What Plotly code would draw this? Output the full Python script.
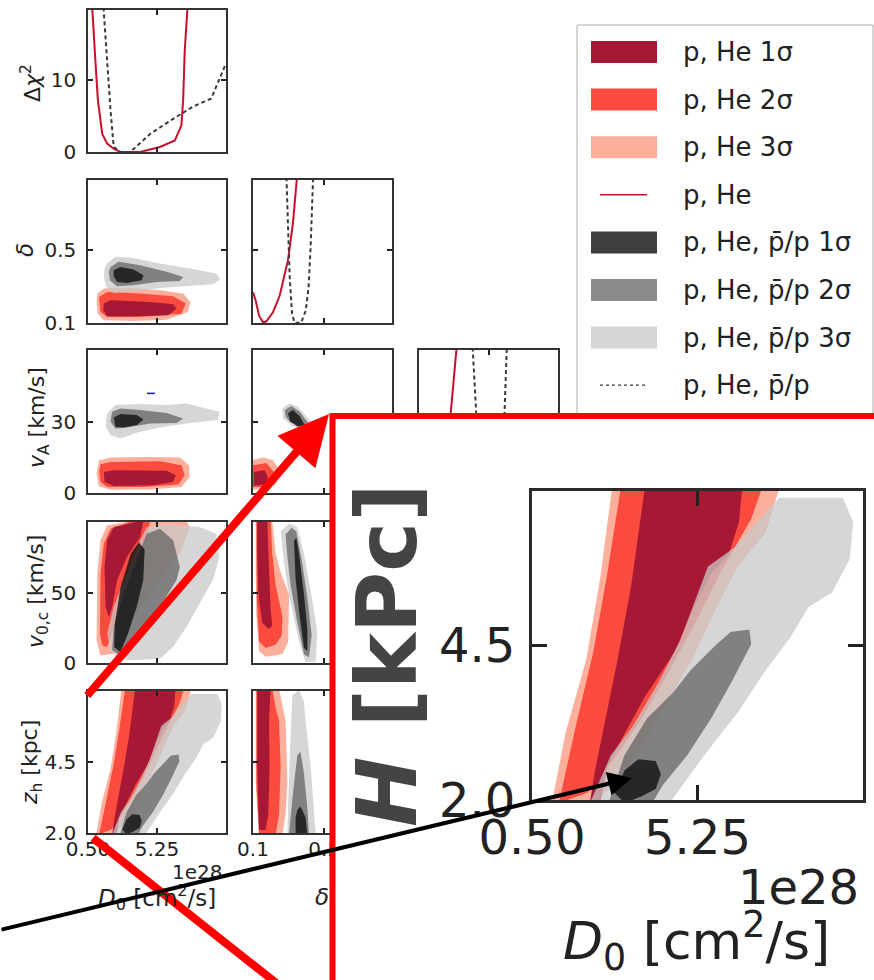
import plotly.graph_objects as go

W, H = 874, 980

# ---------------- parameter ranges and ticks ----------------
D0_RANGE = [0.5, 10.0]
DELTA_RANGE = [0.1, 0.88]
VA_RANGE = [0.0, 60.0]
V0C_RANGE = [0.0, 100.0]
ZH_RANGE = [2.0, 7.0]
DCHI2_RANGE = [0.0, 19.7]

D0_TICKS, D0_TICKTEXT = [0.5, 5.25, 10.0], ["0.50", "5.25", ""]
DELTA_TICKS, DELTA_TICKTEXT = [0.1, 0.5], ["0.1", "0.5"]
VA_TICKS, VA_TICKTEXT = [0, 30, 60], ["0", "30", ""]
V0C_TICKS, V0C_TICKTEXT = [0, 50, 100], ["0", "50", ""]
ZH_TICKS, ZH_TICKTEXT = [2.0, 4.5, 7.0], ["2.0", "4.5", ""]
DCHI2_TICKS, DCHI2_TICKTEXT = [0, 10], ["0", "10"]

# ---------------- profile likelihoods (delta chi^2) ----------------
DCHI_D0_RED_X = [0.75, 0.80, 1.02, 1.18, 1.48, 1.82, 2.27, 2.73, 4.09, 5.45, 6.48, 6.93, 7.05, 7.16, 7.34, 7.40]
DCHI_D0_RED_Y = [22.0, 19.7, 12.3, 7.2, 2.5, 1.16, 0.46, 0.0, 0.0, 0.7, 1.6, 3.7, 7.2, 14.1, 19.7, 22.0]
DCHI_D0_PBAR_X = [1.50, 1.82, 2.05, 2.27, 2.73, 3.41, 4.77, 6.36, 7.73, 8.98, 9.32, 9.66, 10.0]
DCHI_D0_PBAR_Y = [22.0, 11.8, 5.8, 0.7, 0.0, 0.0, 2.5, 4.6, 6.3, 7.4, 9.0, 10.7, 12.3]

DCHI_DELTA_RED_X = [0.100, 0.115, 0.134, 0.156, 0.175, 0.212, 0.250, 0.296, 0.324, 0.350]
DCHI_DELTA_RED_Y = [4.24, 3.09, 1.01, 0.09, 0.23, 1.48, 3.78, 8.63, 13.7, 21.0]
DCHI_DELTA_PBAR_X = [0.285, 0.296, 0.306, 0.319, 0.334, 0.371, 0.396, 0.412, 0.424, 0.440]
DCHI_DELTA_PBAR_Y = [22.0, 13.2, 6.3, 1.25, 0.0, 0.09, 1.7, 4.9, 10.9, 22.0]

DCHI_VA_RED_X = [0.0, 3.0, 6.0, 9.0, 12.0, 13.7, 16.5]
DCHI_VA_RED_Y = [3.0, 0.5, 0.0, 1.5, 6.0, 11.0, 21.0]
DCHI_VA_PBAR_X = [23.0, 24.7, 26.5, 28.0, 30.0, 33.0, 35.5, 36.9, 38.0]
DCHI_VA_PBAR_Y = [21.0, 11.0, 3.0, 0.3, 0.0, 0.5, 4.0, 11.0, 21.0]

# ---------------- 2D confidence regions: [3sigma, 2sigma, 1sigma] ----------------
D0_DELTA_RED = [
    [(1.14, .261), (1.59, .288), (3.18, .293), (5.46, .279), (7.05, .261), (7.55, .215), (7.39, .160),
     (5.91, .118), (3.64, .111), (1.59, .115), (1.18, .151), (1.09, .215)],
    [(1.25, .242), (1.82, .269), (4.09, .261), (6.36, .246), (7.23, .206), (6.93, .151), (4.09, .133),
     (1.82, .133), (1.36, .160), (1.27, .206)],
    [(1.59, .206), (2.05, .224), (4.77, .215), (6.36, .202), (6.59, .178), (6.02, .142), (3.64, .137),
     (1.82, .137), (1.55, .169)],
]
D0_DELTA_GRAY = [
    [(1.82, .424), (2.39, .461), (3.41, .457), (5.46, .424), (7.50, .397), (9.32, .370), (9.59, .337),
     (9.09, .311), (5.91, .293), (3.64, .275), (2.27, .264), (1.77, .297), (1.59, .351), (1.64, .397)],
    [(2.05, .406), (2.61, .434), (4.09, .415), (5.91, .379), (7.05, .351), (6.82, .329), (5.23, .324),
     (3.64, .306), (2.50, .300), (2.00, .333), (1.93, .379)],
    [(2.27, .388), (2.73, .406), (3.64, .392), (4.32, .361), (4.21, .333), (3.18, .318), (2.50, .324),
     (2.27, .355)],
]

D0_VA_RED = [
    [(1.25, 13.7), (2.05, 14.9), (4.77, 15.1), (6.82, 14.9), (7.45, 11.6), (7.50, 6.7), (6.93, 2.5),
     (4.77, 1.5), (2.05, 1.4), (1.25, 2.8), (1.09, 8.1)],
    [(1.36, 12.1), (2.05, 13.0), (5.46, 13.3), (6.93, 11.6), (7.16, 7.4), (6.71, 3.6), (4.32, 2.5),
     (1.82, 2.5), (1.36, 4.6), (1.27, 8.8)],
    [(1.59, 8.8), (2.27, 9.5), (5.91, 9.3), (6.54, 7.4), (6.36, 4.6), (5.00, 3.2), (2.27, 2.9), (1.64, 4.6)],
]
D0_VA_GRAY = [
    [(1.82, 33.4), (2.39, 36.9), (4.09, 37.3), (5.91, 36.9), (7.27, 37.6), (8.64, 35.5), (9.55, 34.1),
     (9.43, 30.6), (7.27, 29.2), (5.46, 27.5), (4.09, 25.7), (2.73, 22.9), (2.05, 24.3), (1.71, 27.8)],
    [(2.16, 34.1), (2.73, 35.5), (4.09, 34.8), (5.91, 33.6), (7.05, 31.3), (6.59, 29.4), (4.77, 29.2),
     (3.18, 27.5), (2.39, 27.0), (2.05, 29.9)],
    [(2.27, 31.7), (2.73, 33.1), (3.86, 32.7), (4.32, 30.8), (3.86, 28.5), (2.95, 27.5), (2.39, 27.8)],
]
BLUE_MARK_D0 = [4.56, 5.11]
BLUE_MARK_VA = [41.8, 41.8]

D0_V0C_RED = [
    [(1.09, 16.1), (1.14, 63.4), (1.36, 87.0), (1.82, 97.6), (3.64, 101.0), (7.27, 101.0), (7.50, 96.5),
     (6.82, 77.5), (5.45, 58.6), (4.09, 39.7), (2.95, 20.8), (2.27, 6.6), (1.36, 5.4)],
    [(1.32, 20.8), (1.36, 63.4), (1.59, 84.6), (2.05, 95.3), (3.64, 101.0), (4.77, 101.0), (4.55, 87.0),
     (3.64, 68.1), (2.73, 44.4), (2.16, 20.8), (1.82, 11.3), (1.48, 12.5)],
    [(1.71, 39.7), (1.64, 68.1), (1.82, 87.0), (2.27, 96.5), (4.32, 101.0), (4.09, 89.4), (3.18, 75.2),
     (2.50, 58.6), (2.16, 39.7), (1.93, 32.6)],
]
D0_V0C_GRAY = [
    [(2.05, 9.0), (1.82, 20.8), (2.27, 39.7), (3.18, 63.4), (4.09, 87.0), (4.55, 96.5), (5.91, 98.3),
     (8.18, 96.5), (9.32, 91.7), (9.55, 75.2), (9.09, 58.6), (8.18, 42.1), (7.27, 25.5), (6.36, 11.3),
     (5.45, 3.1), (3.64, 1.9), (2.50, 3.1)],
    [(2.16, 9.0), (2.27, 25.5), (2.95, 49.2), (3.86, 72.8), (4.55, 91.7), (5.45, 95.3), (6.36, 87.0),
     (6.82, 68.1), (6.59, 58.6), (5.45, 39.7), (4.32, 23.2), (3.41, 10.2), (2.73, 5.4)],
    [(2.30, 11.3), (2.35, 27.9), (2.75, 53.9), (3.45, 77.5), (4.00, 85.5), (4.40, 80.5), (4.30, 58.6),
     (3.85, 39.7), (3.25, 20.8), (2.73, 7.8)],
]

D0_ZH_RED = [
    [(1.07, 1.95), (1.46, 3.08), (2.06, 4.28), (2.46, 5.60), (2.81, 7.1), (7.63, 7.1), (7.20, 6.32),
     (6.40, 5.78), (5.75, 5.06), (5.10, 4.28), (4.30, 3.50), (3.60, 2.84), (2.90, 2.30), (2.30, 1.95)],
    [(1.27, 1.95), (1.76, 3.20), (2.26, 4.40), (2.66, 5.66), (3.06, 7.1), (7.13, 7.1), (6.80, 6.56),
     (5.95, 5.72), (5.20, 4.88), (4.45, 4.10), (3.65, 3.32), (2.85, 2.66), (2.10, 2.12)],
    [(3.75, 7.1), (3.35, 5.48), (2.96, 4.28), (2.56, 3.20), (2.31, 2.48), (2.16, 1.95), (2.46, 1.95),
     (2.66, 2.54), (3.16, 3.08), (3.75, 3.68), (4.60, 4.40), (5.15, 5.12), (5.64, 5.66), (6.14, 5.96),
     (6.44, 6.50), (6.54, 7.1)],
]
D0_ZH_GRAY = [
    [(2.16, 1.95), (2.76, 2.72), (3.40, 3.20), (4.15, 3.92), (4.75, 4.58), (5.20, 5.24), (5.55, 5.78),
     (6.30, 6.08), (7.05, 6.56), (7.60, 6.89), (9.42, 6.89), (9.72, 6.50), (9.62, 5.90), (9.12, 5.36),
     (8.43, 5.12), (7.93, 4.64), (7.13, 4.04), (6.44, 3.44), (5.44, 2.72), (4.45, 1.95)],
    [(2.70, 1.95), (3.15, 2.72), (3.80, 3.32), (4.55, 3.74), (5.05, 4.10), (5.80, 4.52), (6.20, 4.72),
     (6.74, 4.76), (6.79, 4.52), (6.24, 3.92), (5.64, 3.32), (4.95, 2.72), (4.25, 2.24), (3.95, 1.95)],
    [(2.86, 2.12), (3.16, 2.48), (3.55, 2.66), (4.05, 2.63), (4.20, 2.42), (4.05, 2.18), (3.65, 2.06),
     (3.16, 1.95)],
]

DELTA_VA_RED = [
    [(0.095, 13.7), (0.156, 14.9), (0.212, 13.7), (0.250, 9.5), (0.231, 3.9), (0.175, 1.8), (0.095, 1.4)],
    [(0.100, 11.6), (0.175, 12.6), (0.216, 8.8), (0.203, 3.9), (0.156, 2.5), (0.100, 2.5)],
    [(0.105, 8.8), (0.165, 9.5), (0.184, 6.7), (0.171, 3.6), (0.105, 3.1)],
]
DELTA_VA_GRAY = [
    [(0.265, 35.5), (0.306, 37.6), (0.352, 36.2), (0.418, 30.6), (0.470, 27.0), (0.399, 26.5),
     (0.324, 28.0), (0.268, 31.3)],
    [(0.278, 34.8), (0.315, 36.5), (0.362, 34.1), (0.409, 29.4), (0.371, 28.3), (0.306, 29.9), (0.283, 32.2)],
    [(0.296, 33.4), (0.324, 34.8), (0.362, 32.2), (0.390, 28.5), (0.352, 27.8), (0.310, 29.9)],
]

DELTA_V0C_RED = [
    [(0.115, 101.0), (0.208, 101.0), (0.227, 77.7), (0.255, 64.3), (0.302, 48.7), (0.298, 15.2),
     (0.265, 6.2), (0.171, 4.5), (0.134, 8.5), (0.119, 33.0), (0.115, 66.5)],
    [(0.119, 101.0), (0.199, 101.0), (0.208, 77.7), (0.227, 55.4), (0.265, 33.0), (0.261, 19.6),
     (0.227, 12.9), (0.171, 10.7), (0.134, 15.2), (0.122, 44.2)],
    [(0.124, 101.0), (0.180, 101.0), (0.190, 66.5), (0.199, 37.5), (0.208, 26.3), (0.186, 24.1),
     (0.152, 28.6), (0.130, 48.7), (0.124, 77.7)],
]
DELTA_V0C_GRAY = [
    [(0.255, 93.3), (0.302, 98.9), (0.349, 96.6), (0.386, 77.7), (0.424, 50.9), (0.461, 21.9),
     (0.452, 0.7), (0.395, 0.7), (0.358, 15.2), (0.302, 48.7), (0.274, 71.0)],
    [(0.283, 91.1), (0.317, 96.0), (0.343, 93.3), (0.373, 73.2), (0.405, 46.4), (0.429, 19.6),
     (0.414, 4.0), (0.386, 6.2), (0.349, 28.6), (0.311, 55.4), (0.293, 75.4)],
    [(0.330, 86.6), (0.343, 88.8), (0.358, 77.7), (0.386, 48.7), (0.405, 24.1), (0.405, 8.5),
     (0.386, 10.7), (0.362, 33.0), (0.339, 59.8)],
]

DELTA_ZH_RED = [
    [(0.115, 7.1), (0.246, 7.1), (0.265, 6.51), (0.283, 5.96), (0.293, 3.76), (0.283, 2.66),
     (0.265, 1.95), (0.134, 1.95), (0.115, 3.76)],
    [(0.119, 7.1), (0.208, 7.1), (0.227, 6.40), (0.246, 5.96), (0.255, 4.31), (0.246, 2.66),
     (0.227, 1.95), (0.134, 1.95), (0.119, 3.76)],
    [(0.124, 7.1), (0.199, 7.1), (0.190, 5.96), (0.193, 4.31), (0.186, 2.66), (0.171, 2.11),
     (0.134, 2.11), (0.124, 4.31)],
]
DELTA_ZH_GRAY = [
    [(0.321, 6.84), (0.358, 7.05), (0.386, 6.62), (0.395, 5.96), (0.424, 4.31), (0.442, 2.66),
     (0.452, 1.95), (0.293, 1.95), (0.298, 3.21), (0.311, 5.41)],
    [(0.349, 4.75), (0.367, 4.86), (0.386, 4.09), (0.405, 2.88), (0.414, 1.95), (0.302, 1.95),
     (0.321, 3.21), (0.336, 3.98)],
    [(0.349, 2.82), (0.367, 2.93), (0.395, 2.55), (0.405, 1.95), (0.339, 1.95), (0.339, 2.55)],
]

LEGEND_LABELS = ["p, He 1σ", "p, He 2σ", "p, He 3σ", "p, He",
                 "p, He, p\u0304/p 1σ", "p, He, p\u0304/p 2σ", "p, He, p\u0304/p 3σ", "p, He, p\u0304/p"]

# ---------------- styles ----------------
RED_FILLS = ["rgb(252,176,156)", "rgb(251,74,62)", "rgb(166,24,52)"]          # 3, 2, 1 sigma
GRAY_FILLS = ["rgba(200,200,200,0.75)", "rgba(100,100,100,0.75)", "rgba(20,20,20,0.82)"]
RED_LINE = "#c8102e"
PBAR_LINE = "#3a3a3a"
FONT = "DejaVu Sans"
INK = "#222"


def px_x(x):
    return x / W


def px_y(y):
    return 1 - y / H


def dom_x(a, b):
    return [a / W, b / W]


def dom_y(top, bottom):
    return [1 - bottom / H, 1 - top / H]


fig = go.Figure()


def add_regions(levels, colors, n):
    for poly, col in zip(levels, colors):
        xs = [p[0] for p in poly] + [poly[0][0]]
        ys = [p[1] for p in poly] + [poly[0][1]]
        fig.add_trace(go.Scatter(x=xs, y=ys, xaxis=f"x{n}", yaxis=f"y{n}", mode="lines",
                                 fill="toself", fillcolor=col, line=dict(width=0, color=col),
                                 hoverinfo="skip", showlegend=False))


def add_profile(xs, ys, n, color, dash):
    fig.add_trace(go.Scatter(x=xs, y=ys, xaxis=f"x{n}", yaxis=f"y{n}", mode="lines",
                             line=dict(color=color, width=2, dash=dash),
                             hoverinfo="skip", showlegend=False))


def make_axis(domain, rng, ticks, labels, anchor, show, size=20, lw=1.5, tl=5, standoff=4,
              color="#333"):
    return dict(domain=domain, range=rng, tickmode="array", tickvals=ticks, ticktext=labels,
                showticklabels=show, ticks="inside", ticklen=tl, tickwidth=lw, tickcolor=INK,
                showline=True, linewidth=lw, linecolor=color, mirror="allticks",
                showgrid=False, zeroline=False, anchor=anchor, fixedrange=True,
                ticklabelstandoff=standoff, automargin=False,
                tickfont=dict(family=FONT, size=size, color=INK))


COLS = {1: (88, 226), 2: (253, 392), 3: (419, 558)}
ROWS = {1: (10, 152), 2: (180, 323), 3: (350, 493), 4: (522, 663), 5: (691, 833)}

PARAMS = {
    "D0": (D0_RANGE, D0_TICKS, D0_TICKTEXT),
    "delta": (DELTA_RANGE, DELTA_TICKS, DELTA_TICKTEXT),
    "vA": (VA_RANGE, VA_TICKS, VA_TICKTEXT),
    "v0c": (V0C_RANGE, V0C_TICKS, V0C_TICKTEXT),
    "zh": (ZH_RANGE, ZH_TICKS, ZH_TICKTEXT),
    "dchi2": (DCHI2_RANGE, DCHI2_TICKS, DCHI2_TICKTEXT),
}

# (subplot id, row, col, x parameter, y parameter)
PANELS = [
    (1, 1, 1, "D0", "dchi2"),
    (2, 2, 1, "D0", "delta"),
    (3, 2, 2, "delta", "dchi2"),
    (4, 3, 1, "D0", "vA"),
    (5, 3, 2, "delta", "vA"),
    (6, 3, 3, "vA", "dchi2"),
    (7, 4, 1, "D0", "v0c"),
    (8, 4, 2, "delta", "v0c"),
    (9, 5, 1, "D0", "zh"),
    (10, 5, 2, "delta", "zh"),
]

layout_axes = {}
for n, r, c, px, py in PANELS:
    xr, xt, xl = PARAMS[px]
    yr, yt, yl = PARAMS[py]
    layout_axes[f"xaxis{n}"] = make_axis(dom_x(*COLS[c]), xr, xt, xl, f"y{n}", r == 5, standoff=-3)
    layout_axes[f"yaxis{n}"] = make_axis(dom_y(*ROWS[r]), yr, yt, yl, f"x{n}", c == 1, standoff=6)

# corner: profiles
add_profile(DCHI_D0_RED_X, DCHI_D0_RED_Y, 1, RED_LINE, "solid")
add_profile(DCHI_D0_PBAR_X, DCHI_D0_PBAR_Y, 1, PBAR_LINE, "4px,3px")
add_profile(DCHI_DELTA_RED_X, DCHI_DELTA_RED_Y, 3, RED_LINE, "solid")
add_profile(DCHI_DELTA_PBAR_X, DCHI_DELTA_PBAR_Y, 3, PBAR_LINE, "4px,3px")
add_profile(DCHI_VA_RED_X, DCHI_VA_RED_Y, 6, RED_LINE, "solid")
add_profile(DCHI_VA_PBAR_X, DCHI_VA_PBAR_Y, 6, PBAR_LINE, "4px,3px")

# corner: 2D regions (red first, then translucent gray on top)
for n, red, gray in [(2, D0_DELTA_RED, D0_DELTA_GRAY), (4, D0_VA_RED, D0_VA_GRAY),
                     (5, DELTA_VA_RED, DELTA_VA_GRAY), (7, D0_V0C_RED, D0_V0C_GRAY),
                     (8, DELTA_V0C_RED, DELTA_V0C_GRAY), (9, D0_ZH_RED, D0_ZH_GRAY),
                     (10, DELTA_ZH_RED, DELTA_ZH_GRAY)]:
    add_regions(red, RED_FILLS, n)
    add_regions(gray, GRAY_FILLS, n)

fig.add_trace(go.Scatter(x=BLUE_MARK_D0, y=BLUE_MARK_VA, xaxis="x4", yaxis="y4", mode="lines",
                         line=dict(color="#1010e0", width=1.5), hoverinfo="skip", showlegend=False))

# white backdrop of the magnified panel (drawn over the corner plot)
INSET_LEFT, INSET_TOP = 333, 416
layout_axes["xaxis11"] = dict(domain=dom_x(INSET_LEFT, W), range=[0, 1], visible=False, anchor="y11",
                              fixedrange=True)
layout_axes["yaxis11"] = dict(domain=dom_y(INSET_TOP, H), range=[0, 1], visible=False, anchor="x11",
                              fixedrange=True)
fig.add_trace(go.Scatter(x=[0, 1, 1, 0, 0], y=[0, 0, 1, 1, 0], xaxis="x11", yaxis="y11", mode="lines",
                         fill="toself", fillcolor="white", line=dict(width=0, color="white"),
                         hoverinfo="skip", showlegend=False))

# magnified z_h vs D0 panel
layout_axes["xaxis12"] = make_axis(dom_x(532, 863), D0_RANGE, D0_TICKS, D0_TICKTEXT, "y12", True,
                                   size=48, lw=3, tl=15, standoff=-7, color="#2a2a2a")
layout_axes["yaxis12"] = make_axis(dom_y(491, 800), ZH_RANGE, ZH_TICKS, ZH_TICKTEXT, "x12", True,
                                   size=48, lw=3, tl=15, standoff=4, color="#2a2a2a")
add_regions(D0_ZH_RED, RED_FILLS, 12)
add_regions(D0_ZH_GRAY, GRAY_FILLS, 12)

# ---------------- text ----------------
ann = []


def text(x, y, s, size, anchor="center", angle=0, color=INK, yanchor="middle"):
    ann.append(dict(x=px_x(x), y=px_y(y), xref="paper", yref="paper", text=s, showarrow=False,
                    xanchor=anchor, yanchor=yanchor, textangle=angle,
                    font=dict(family=FONT, size=size, color=color)))


text(31, 83, "Δ<i>χ</i><sup>2</sup>", 22, angle=-90)
text(25, 250, "<i>δ</i>", 23, angle=-90)
text(38, 418, "<i>v</i><sub>A</sub> [km/s]", 22, angle=-90)
text(37, 592, "<i>v</i><sub>0,c</sub> [km/s]", 22, angle=-90)
text(31, 762, "<i>z</i><sub>h</sub> [kpc]", 22, angle=-90)
text(224, 872, "1e28", 20, anchor="right")
text(157, 897, "<i>D</i><sub>0</sub> [cm<sup>2</sup>/s]", 23)
text(331, 897, "<i>δ</i>", 23, anchor="right")

text(387, 655, "<b><i>H</i> [kPc]</b>", 84, angle=-90, color="#444")
text(861, 887, "1e28", 48, anchor="right")
text(696, 941, "<i>D</i><sub>0</sub> [cm<sup>2</sup>/s]", 52)

# legend
LEG_X0, LEG_TOP, LEG_RIGHT = 577, 25, 873
shapes = [
    dict(type="line", xref="paper", yref="paper", x0=px_x(LEG_X0), x1=px_x(LEG_X0),
         y0=px_y(LEG_TOP), y1=px_y(INSET_TOP), line=dict(color="#c8c8c8", width=1.5)),
    dict(type="line", xref="paper", yref="paper", x0=px_x(LEG_X0), x1=px_x(LEG_RIGHT),
         y0=px_y(LEG_TOP), y1=px_y(LEG_TOP), line=dict(color="#c8c8c8", width=1.5)),
    dict(type="line", xref="paper", yref="paper", x0=px_x(LEG_RIGHT), x1=px_x(LEG_RIGHT),
         y0=px_y(LEG_TOP), y1=px_y(INSET_TOP), line=dict(color="#c8c8c8", width=1.5)),
]
legend_marks = [("patch", RED_FILLS[2]), ("patch", RED_FILLS[1]), ("patch", RED_FILLS[0]),
                ("line", RED_LINE), ("patch", GRAY_FILLS[2]), ("patch", GRAY_FILLS[1]),
                ("patch", GRAY_FILLS[0]), ("dash", PBAR_LINE)]
for i, (label, (kind, col)) in enumerate(zip(LEGEND_LABELS, legend_marks)):
    yc = 52 + i * 47.6
    if kind == "patch":
        shapes.append(dict(type="rect", xref="paper", yref="paper", x0=px_x(591), x1=px_x(657),
                           y0=px_y(yc + 11), y1=px_y(yc - 11), fillcolor=col, line=dict(width=0)))
    else:
        shapes.append(dict(type="line", xref="paper", yref="paper", x0=px_x(600), x1=px_x(647),
                           y0=px_y(yc), y1=px_y(yc),
                           line=dict(color=col, width=1.5 if kind == "line" else 1.2,
                                     dash="solid" if kind == "line" else "3px,3px")))
    text(681, yc, label, 26, anchor="left")

# frame of the magnified view and connector lines
shapes.append(dict(type="rect", xref="paper", yref="paper", x0=px_x(INSET_LEFT - 0.5), x1=px_x(W + 20),
                   y0=px_y(H + 20), y1=px_y(INSET_TOP), line=dict(color="#ff0000", width=6)))
shapes.append(dict(type="line", xref="paper", yref="paper", x0=px_x(93), y0=px_y(838),
                   x1=px_x(285), y1=px_y(990), line=dict(color="#ff0000", width=8)))

ann.append(dict(x=px_x(329), y=px_y(414), xref="paper", yref="paper", ax=86 - 329, ay=697 - 414,
                axref="pixel", ayref="pixel", text="", showarrow=True, arrowhead=2, arrowsize=1.25,
                arrowwidth=8, arrowcolor="#ff0000"))
ann.append(dict(x=px_x(632), y=px_y(778), xref="paper", yref="paper", ax=-6 - 632, ay=930 - 778,
                axref="pixel", ayref="pixel", text="", showarrow=True, arrowhead=2, arrowsize=1.2,
                arrowwidth=4, arrowcolor="#000000"))

fig.update_layout(width=W, height=H, margin=dict(l=0, r=0, t=0, b=0, pad=0, autoexpand=False),
                  paper_bgcolor="white", plot_bgcolor="white", showlegend=False,
                  annotations=ann, shapes=shapes, **layout_axes)

fig.write_html("out.html")
